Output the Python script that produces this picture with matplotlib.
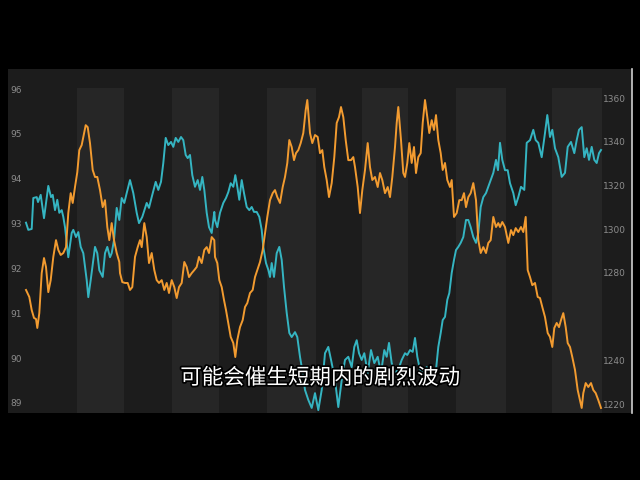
"""Dual-axis price chart with a subtitle caption, dark theme."""

import matplotlib

matplotlib.use("Agg")
import matplotlib.patheffects as pe
import matplotlib.pyplot as plt

# Teal series (left axis).
teal_t = [
    0, 2.3, 5.7, 7.3, 10.7, 12, 14.7, 18, 22.3, 25, 26.7, 29, 31.3, 33.3, 35.7, 37.3, 39, 42.3, 45.7, 47.3,
    50, 52.3, 54.7, 57.3, 60.7, 62.3, 64.7, 67.3, 69, 71.3, 73.3, 76.7, 79, 81.3, 84, 85.7, 88, 90.7, 93.3,
    95.7, 98.3, 100.7, 104, 107.3, 110.7, 113, 116.3, 120.7, 123, 125.7, 129.7, 132.3, 135, 137.3, 139.7,
    142.3, 145, 147.3, 149.7, 152.3, 155, 157.3, 159.7, 161.7, 164, 166.3, 169, 171.7, 174, 176.3, 178.3,
    180.7, 183, 185.7, 188.3, 189, 191.3, 194, 197.3, 200, 202.3, 204.7, 207.3, 209.3, 211.3, 213.3, 215.7,
    218, 220.7, 223.3, 225.7, 228, 230.7, 233.3, 235.7, 237.3, 240, 242.3, 244, 245.7, 248, 250.7, 253.3,
    255.7, 258, 260.7, 263.3, 265.7, 269, 271.3, 274, 276.7, 279, 282.3, 285.7, 289, 292.3, 295.7, 299,
    302.3, 305.7, 309, 312.3, 315.7, 319, 322.3, 325.7, 328.3, 330.7, 333, 335.7, 338.3, 341.7, 345, 348.3,
    351.7, 355, 358.3, 360.7, 363, 365.7, 369, 372.3, 375.7, 379, 381.3, 384, 386.7, 389, 391.3, 394, 397.3,
    400.7, 404, 407.3, 410, 412.3, 414.7, 416.7, 419, 421.3, 423.3, 425.7, 428, 430, 432.3, 434.7, 437.3,
    440, 442.3, 444.7, 447.3, 450, 452.3, 454.7, 457.3, 460, 462.3, 464.7, 467.3, 470, 472, 474, 476.3,
    479, 481.7, 484, 487.3, 489.7, 492.3, 495, 498.3, 500.7, 504, 507.3, 509.7, 512.3, 515.7, 519, 521.3,
    524, 526.3, 529, 532.3, 535.7, 539, 541.7, 545, 548.3, 550.7, 553, 555.7, 558.3, 560.7, 563, 565.7,
    568.3, 570.7, 573, 575,
]
teal_v = [
    93.02, 92.86, 92.88, 93.57, 93.59, 93.48, 93.64, 93.12, 93.84, 93.59, 93.64, 93.30, 93.53, 93.24, 93.30,
    93.15, 92.92, 92.25, 92.79, 92.86, 92.70, 92.81, 92.48, 92.34, 91.74, 91.36, 91.74, 92.19, 92.48, 92.34,
    91.96, 91.81, 92.34, 92.48, 92.25, 92.34, 92.63, 93.35, 93.08, 93.57, 93.46, 93.68, 93.97, 93.68, 93.24,
    93.01, 93.15, 93.46, 93.35, 93.59, 93.93, 93.75, 93.93, 94.35, 94.91, 94.75, 94.82, 94.71, 94.91, 94.82,
    94.93, 94.86, 94.53, 94.46, 94.53, 94.08, 93.82, 93.97, 93.75, 94.04, 93.75, 93.24, 92.92, 92.79, 93.26,
    93.08, 92.92, 93.24, 93.46, 93.57, 93.70, 93.90, 93.82, 94.08, 93.82, 93.53, 93.97, 93.68, 93.37, 93.30,
    93.37, 93.26, 93.26, 93.15, 92.86, 92.48, 92.12, 91.97, 91.81, 92.12, 91.81, 92.34, 92.48, 92.19, 91.59,
    91.01, 90.56, 90.47, 90.58, 90.47, 90.03, 89.67, 89.29, 89.07, 88.89, 89.22, 88.84, 89.29, 90.11, 90.25,
    89.89, 89.51, 88.91, 89.51, 89.96, 90.03, 89.80, 90.25, 90.40, 90.11, 89.96, 90.11, 89.67, 90.18, 89.89,
    90.03, 89.67, 90.18, 90.03, 90.34, 89.89, 89.67, 89.74, 89.96, 90.11, 90.07, 90.18, 90.14, 90.45, 90.03,
    89.74, 89.67, 89.80, 89.67, 89.67, 89.74, 90.25, 90.56, 90.85, 90.92, 91.30, 91.45, 91.90, 92.19, 92.41,
    92.48, 92.57, 92.70, 93.08, 93.08, 92.92, 92.70, 92.57, 92.79, 93.37, 93.59, 93.68, 93.82, 93.97, 94.13,
    94.42, 94.19, 94.80, 94.42, 94.19, 94.19, 93.90, 93.68, 93.41, 93.59, 93.82, 93.75, 94.80, 94.86, 95.09,
    94.86, 94.80, 94.48, 95.02, 95.42, 94.93, 95.09, 94.68, 94.48, 94.04, 94.13, 94.71, 94.82, 94.57, 94.86,
    95.09, 95.15, 94.48, 94.68, 94.42, 94.71, 94.42, 94.35, 94.57, 94.64,
]

# Orange series (right axis).
orange_t = [
    0, 3.3, 5.7, 8, 10, 11.3, 13.3, 15.7, 18, 20, 22.3, 24.7, 27.3, 30, 32.3, 34.7, 37.3, 40, 42.3, 44.7,
    46.7, 49, 51.3, 53.3, 55.7, 57.3, 59.7, 61.7, 64, 66.7, 69, 71.3, 74, 76.7, 79, 81.3, 83.3, 85.7, 88,
    90.7, 93.3, 94, 96.3, 99, 101.7, 104, 106.3, 109, 111.7, 114, 115.7, 118.3, 120.7, 123, 125.7, 128.3,
    130.7, 133, 135.7, 138.3, 140.7, 143, 145.7, 148.3, 150.7, 153, 155.7, 158.3, 160.7, 163, 165.7, 168.3,
    170.7, 173, 175.7, 178.3, 180.7, 183, 185.7, 188.3, 189, 191.3, 193.3, 195.7, 198, 200, 202.3, 204.7,
    207.3, 209.3, 211.3, 214, 216.7, 219, 221.3, 224, 226.7, 229, 231.3, 234, 236.7, 239, 241.3, 244,
    246.7, 249, 251.3, 254, 256.7, 259, 261.3, 263.3, 265.7, 268, 270, 272.3, 274.7, 277.3, 279.7, 281.3,
    284, 286.3, 289, 291.7, 294, 296.3, 298.3, 300.7, 303, 305.7, 308.3, 310.7, 313, 315, 317.3, 319.7,
    322.3, 325, 327.3, 329, 331.7, 334, 336.3, 339, 341.7, 344, 346.3, 349, 351.7, 354, 356.3, 359, 361.7,
    364, 366.3, 369, 370.7, 372.3, 375, 377.3, 379, 381.3, 383.3, 385.7, 388, 390, 392.3, 394.7, 396.7,
    399, 401.3, 403.3, 405.7, 408, 410, 412.3, 414.7, 416.7, 419, 421.3, 424, 425.7, 428, 430.7, 433.3,
    435.7, 438, 440, 442.3, 444.7, 447.3, 450, 452.3, 454.7, 457.3, 460, 462.3, 464.7, 467.3, 470, 472.3,
    474, 476.3, 479, 482.3, 485, 487.3, 489.7, 492.3, 495, 497.3, 499.7, 501.7, 504, 506.3, 509, 511.7,
    514, 516.3, 519, 521.7, 524, 526.3, 528.3, 530.7, 533, 535, 537.3, 539.7, 541.7, 544, 546.3, 549,
    551.7, 554, 555.7, 557.3, 559.7, 562.3, 565, 567.3, 569.7, 572.3, 575,
]
orange_v = [
    1272.2, 1269.0, 1263.0, 1259.4, 1258.9, 1254.8, 1261.6, 1279.9, 1286.8, 1282.7, 1271.2, 1276.7, 1287.3,
    1295.0, 1290.5, 1288.2, 1289.1, 1291.8, 1307.4, 1316.5, 1312.0, 1319.3, 1326.1, 1336.2, 1338.5, 1342.2,
    1347.6, 1346.7, 1339.4, 1327.1, 1323.9, 1323.9, 1317.9, 1310.1, 1313.3, 1301.0, 1295.0, 1302.8, 1295.0,
    1289.1, 1285.0, 1279.9, 1275.8, 1275.4, 1275.4, 1272.2, 1273.5, 1287.3, 1291.8, 1295.0, 1291.8, 1302.8,
    1296.4, 1284.5, 1289.1, 1281.3, 1276.7, 1275.4, 1276.7, 1272.2, 1275.4, 1270.8, 1276.7, 1273.5, 1268.5,
    1273.5, 1275.4, 1285.0, 1282.7, 1278.1, 1279.9, 1281.3, 1282.7, 1287.3, 1284.5, 1290.5, 1291.8, 1289.1,
    1296.4, 1295.0, 1287.3, 1284.5, 1276.7, 1273.5, 1267.6, 1263.0, 1257.1, 1250.7, 1247.9, 1241.5, 1249.3,
    1255.2, 1258.4, 1264.4, 1266.2, 1270.8, 1272.2, 1278.1, 1281.3, 1285.0, 1290.5, 1298.2, 1305.6, 1313.3,
    1316.5, 1317.9, 1314.7, 1312.0, 1319.3, 1323.9, 1330.3, 1340.8, 1337.6, 1331.6, 1334.8, 1336.2, 1339.4,
    1344.0, 1354.5, 1359.1, 1344.0, 1339.4, 1343.1, 1342.2, 1334.8, 1336.2, 1328.4, 1322.5, 1314.7, 1321.1,
    1333.0, 1348.6, 1351.3, 1355.9, 1351.3, 1340.8, 1331.6, 1331.6, 1333.0, 1328.4, 1319.3, 1307.4, 1317.9,
    1327.1, 1339.4, 1328.4, 1322.5, 1323.9, 1319.3, 1325.7, 1322.5, 1316.5, 1319.3, 1314.7, 1323.9, 1337.6,
    1348.6, 1355.9, 1340.8, 1325.7, 1323.9, 1330.3, 1339.4, 1330.3, 1337.6, 1325.7, 1333.0, 1334.8, 1348.6,
    1359.1, 1351.3, 1344.0, 1349.9, 1345.4, 1352.2, 1340.8, 1334.8, 1327.1, 1330.3, 1322.5, 1319.3, 1322.5,
    1305.6, 1307.4, 1313.3, 1313.3, 1316.5, 1310.1, 1314.7, 1316.5, 1321.1, 1313.3, 1295.0, 1289.1, 1291.8,
    1289.1, 1293.7, 1295.0, 1305.6, 1301.0, 1302.8, 1301.0, 1303.3, 1301.0, 1293.7, 1299.6, 1297.3, 1300.5,
    1298.7, 1301.0, 1298.7, 1305.6, 1281.3, 1278.1, 1274.4, 1275.4, 1269.0, 1268.5, 1264.4, 1259.8, 1252.5,
    1250.7, 1246.1, 1254.8, 1257.1, 1255.2, 1258.4, 1261.6, 1255.2, 1247.9, 1246.1, 1241.5, 1235.6, 1226.4,
    1221.8, 1218.2, 1225.0, 1229.6, 1227.8, 1229.6, 1226.4, 1225.0, 1221.8, 1218.2,
]

# Shaded period bands (start, end) on the time axis.
band_starts = [51, 146, 241, 336, 430, 526]
band_ends = [98, 193, 290, 382, 480, 576]

left_ticks = [89, 90, 91, 92, 93, 94, 95, 96]
right_ticks = [1220, 1240, 1280, 1300, 1320, 1340, 1360]

caption = "可能会催生短期内的剧烈波动"

TEAL = "#35b5c2"
ORANGE = "#f29b30"
TICK_GREY = "#8c8c8c"

fig = plt.figure(figsize=(6.4, 4.8), dpi=100, facecolor="black")
ax = fig.add_axes([8 / 640, 1 - 413 / 480, 624 / 640, 344 / 480])
ax.set_facecolor("#1c1c1c")
ax2 = ax.twinx()

for start, end in zip(band_starts, band_ends):
    ax.axvspan(start, end, ymin=0, ymax=0.945, color="#262626", lw=0, zorder=0)

ax.plot(teal_t, teal_v, color=TEAL, lw=1.4, zorder=3)
ax2.plot(orange_t, orange_v, color=ORANGE, lw=1.4, zorder=3)

ax.set_xlim(-18, 606)
ax.set_ylim(88.777, 96.446)
ax2.set_ylim(1215.9, 1373.3)

ax.set_xticks([])
ax.set_yticks(left_ticks)
ax.set_yticklabels([str(v) for v in left_ticks])
ax.tick_params(axis="y", length=0, pad=-10, labelsize=6.5, labelcolor=TICK_GREY)

ax2.set_yticks(right_ticks)
ax2.set_yticklabels([str(v) for v in right_ticks])
ax2.tick_params(axis="y", length=0, pad=-21, labelsize=6.5, labelcolor=TICK_GREY)

for spine in ax.spines.values():
    spine.set_visible(False)
for name, spine in ax2.spines.items():
    spine.set_visible(name == "right")
ax2.spines["right"].set_color("#d0d0d0")
ax2.spines["right"].set_linewidth(1.2)

fig.text(
    0.5, 1 - 378 / 480, caption,
    ha="center", va="center", fontsize=15.5, color="white",
    family=["Noto Sans CJK SC", "DejaVu Sans"], weight="medium",
    path_effects=[pe.withStroke(linewidth=2.5, foreground="black")],
)

fig.savefig("out.png", dpi=100, facecolor="black")
